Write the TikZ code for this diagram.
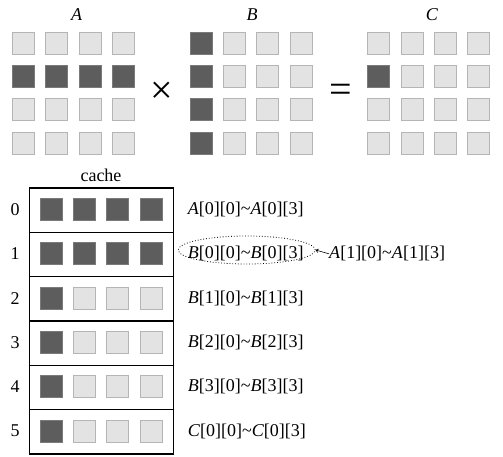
\documentclass[tikz,border=0pt]{standalone}
\usepackage{fontspec}
\setmainfont{Liberation Serif}
\usetikzlibrary{shapes.geometric,arrows.meta}
\definecolor{dk}{HTML}{5D5D5D}
\definecolor{dkb}{HTML}{7A7A7A}
\definecolor{lt}{HTML}{E3E3E3}
\definecolor{ltb}{HTML}{B5B5B5}
\tikzset{
  dsq/.style={draw=dkb,fill=dk,line width=0.8pt,minimum size=22pt,inner sep=0pt},
  lsq/.style={draw=ltb,fill=lt,line width=0.8pt,minimum size=22pt,inner sep=0pt},
  txt/.style={font=\fontsize{18}{21}\selectfont,inner sep=0pt},
  lab/.style={txt,anchor=west},
  op/.style={font=\fontsize{40}{40}\selectfont,inner sep=0pt},
  cell/.style={draw,line width=1.3pt,minimum width=144pt,minimum height=44.3pt,inner sep=0pt,anchor=north west},
}
\newcommand{\tl}{\textasciitilde}
\begin{document}
\begin{tikzpicture}[x=1pt,y=-1pt]
\useasboundingbox (0,0) rectangle (503,456);
% matrix labels
\node[txt] (LA) at (76.7,15) {\textit{A}};
\node[txt] (LB) at (252,15) {\textit{B}};
\node[txt] (LC) at (432,15) {\textit{C}};
\node[op] (times) at (162,93) {\char"00D7};
\node[op] (eq) at (341,93) {=};
% matrices
\foreach \r in {0,...,3} {
  \foreach \c in {0,...,3} {
    \pgfmathsetmacro{\xx}{23.5+33.3*\c}
    \pgfmathsetmacro{\yy}{43+33.3*\r}
    \ifnum\r=1
      \node[dsq] (A-\r-\c) at (\xx,\yy) {};
    \else
      \node[lsq] (A-\r-\c) at (\xx,\yy) {};
    \fi
    \pgfmathsetmacro{\xb}{201.2+33.3*\c}
    \ifnum\c=0
      \node[dsq] (B-\r-\c) at (\xb,\yy) {};
    \else
      \node[lsq] (B-\r-\c) at (\xb,\yy) {};
    \fi
    \pgfmathsetmacro{\xc}{378.8+33.3*\c}
    \pgfmathtruncatemacro{\isd}{(\r==1)&&(\c==0)}
    \ifnum\isd=1
      \node[dsq] (C-\r-\c) at (\xc,\yy) {};
    \else
      \node[lsq] (C-\r-\c) at (\xc,\yy) {};
    \fi
  }
}
% cache
\node[txt] (cache) at (101,175) {cache};
\foreach \r in {0,...,5} {
  \pgfmathsetmacro{\ytop}{187.3+44.33*\r}
  \pgfmathsetmacro{\ymid}{209.5+44.33*\r}
  \node[cell] (row\r) at (29,\ytop) {};
  \node[txt] (n\r) at (15,\ymid) {\r};
  \foreach \c in {0,...,3} {
    \pgfmathsetmacro{\xx}{51.2+33.3*\c}
    \pgfmathtruncatemacro{\isd}{(\r<2)||(\c==0)}
    \ifnum\isd=1
      \node[dsq] (s-\r-\c) at (\xx,\ymid) {};
    \else
      \node[lsq] (s-\r-\c) at (\xx,\ymid) {};
    \fi
  }
}
\node[lab] (t0) at (187.7,209.5) {\textit{A}[0][0]\tl\textit{A}[0][3]};
\node[lab] (t1) at (187.7,253.8) {\textit{B}[0][0]\tl\textit{B}[0][3]};
\node[lab] (t2) at (187.7,298.2) {\textit{B}[1][0]\tl\textit{B}[1][3]};
\node[lab] (t3) at (187.7,342.5) {\textit{B}[2][0]\tl\textit{B}[2][3]};
\node[lab] (t4) at (187.7,386.8) {\textit{B}[3][0]\tl\textit{B}[3][3]};
\node[lab] (t5) at (187.7,431.2) {\textit{C}[0][0]\tl\textit{C}[0][3]};
\node[ellipse,draw,dotted,line width=0.8pt,minimum width=137pt,minimum height=28pt] (ell) at (246.7,250) {};
\node[lab] (ta) at (329,253.8) {\textit{A}[1][0]\tl\textit{A}[1][3]};
\draw[-{To[length=3pt,width=4pt]},line width=0.6pt] (ta.west) -- (ell.east);
\end{tikzpicture}
\end{document}
